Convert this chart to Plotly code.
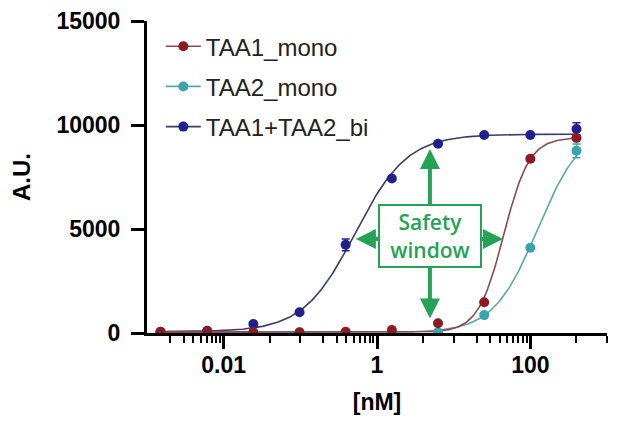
import math
import numpy as np
import plotly.graph_objects as go

# concentrations (nM), 4-fold serial dilution
conc = [0.0015, 0.0061, 0.0244, 0.0977, 0.39, 1.5625, 6.25, 25, 100, 400]

taa1_mono = [50, 70, 40, 40, 60, 140, 470, 1480, 8380, 9380]
taa2_mono = [20, 20, 20, 20, 20, 30, 40, 860, 4100, 8760]
taa1_taa2_bi = [60, 110, 430, 1000, 4240, 7430, 9100, 9520, 9520, 9810]

taa1_err = [0, 0, 0, 0, 0, 0, 0, 0, 0, 0]
taa2_err = [0, 0, 0, 0, 0, 0, 0, 0, 0, 330]
bi_err = [0, 0, 0, 0, 280, 0, 0, 0, 0, 300]

# 4PL fit parameters: bottom, top, EC50, hill
taa1_fit = [40, 9400, 45, 2.6]
taa2_fit = [20, 10000, 125, 1.5]
bi_fit = [60, 9560, 0.52, 1.28]

names = ['TAA1_mono', 'TAA2_mono', 'TAA1+TAA2_bi']
marker_colors = ['#8b1a22', '#3aa3ad', '#1f1f8f']
line_colors = ['#8a4a4e', '#5aa6ae', '#3c3c66']

x_ticks = [0.01, 1, 100]
x_tick_text = ['0.01', '1', '100']
x_minor = [0.002, 0.003, 0.004, 0.005, 0.006, 0.007, 0.008, 0.009,
           0.04, 0.1, 0.2, 0.3, 0.4, 0.5, 0.6, 0.7, 0.8, 0.9,
           4, 10, 20, 30, 40, 50, 60, 70, 80, 90, 400, 1000]
y_ticks = [0, 5000, 10000, 15000]
y_tick_text = ['0', '5000', '10000', '15000']


def four_pl(x, params):
    """Return the 4-parameter logistic curve at x."""
    bottom, top, ec50, hill = params
    return bottom + (top - bottom) / (1 + (ec50 / x) ** hill)


green = '#26a257'
fig = go.Figure()
x_fit = np.logspace(math.log10(conc[0]), math.log10(conc[-1]), 300)

series = [(taa1_taa2_bi, bi_err, bi_fit, 2),
          (taa2_mono, taa2_err, taa2_fit, 1),
          (taa1_mono, taa1_err, taa1_fit, 0)]

for values, err, fit, i in series:
    fig.add_trace(go.Scatter(x=x_fit, y=four_pl(x_fit, fit), mode='lines',
                             line=dict(color=line_colors[i], width=1.6),
                             showlegend=False, hoverinfo='skip'))
for values, err, fit, i in series:
    fig.add_trace(go.Scatter(x=conc, y=values, mode='markers',
                             marker=dict(color=marker_colors[i], size=10),
                             error_y=dict(type='data', array=err, color=marker_colors[i],
                                          thickness=1.5, width=4),
                             showlegend=False))

# legend entries (line + marker like the GraphPad legend)
for i in range(3):
    fig.add_trace(go.Scatter(x=[None], y=[None], mode='lines+markers', name=names[i],
                             line=dict(color=line_colors[i], width=1.6),
                             marker=dict(color=marker_colors[i], size=10),
                             legendgroup=names[i], legendrank=i + 1))

# safety window box and arrows
box_x = math.log10(4.9)
box_y = 4650
fig.add_annotation(x=box_x, y=box_y, xref='x', yref='y', text='Safety<br>window',
                   showarrow=False, font=dict(family='Open Sans', size=21, color=green,
                                              weight=600),
                   bordercolor=green, borderwidth=2, borderpad=3, bgcolor='white',
                   width=94, height=54)
arrow_tips = [(4.9, 8850, 4.9, 6100), (4.9, 700, 4.9, 3200),
              (0.53, 4520, 1.1, 4520), (44, 4520, 21.5, 4520)]
for tx, ty, sx, sy in arrow_tips:
    fig.add_annotation(x=math.log10(tx), y=ty, ax=math.log10(sx), ay=sy,
                       xref='x', yref='y', axref='x', ayref='y', text='',
                       showarrow=True, arrowhead=2, arrowsize=1.0, arrowwidth=4,
                       arrowcolor=green)

tick_font = dict(family='Liberation Sans, Arial', size=23, color='black', weight='bold')
fig.update_xaxes(type='log', range=[-3, 3], tickvals=x_ticks, ticktext=x_tick_text,
                 ticks='outside', ticklen=13, tickwidth=2.5, tickcolor='black',
                 minor=dict(tickvals=x_minor, ticks='outside', ticklen=7, tickwidth=2,
                            tickcolor='black'),
                 showline=True, linecolor='black', linewidth=3, showgrid=False,
                 zeroline=False, tickfont=tick_font, ticklabelstandoff=-4,
                 automargin='bottom',
                 title=dict(text='[nM]', standoff=18,
                            font=dict(family='Liberation Sans, Arial', size=23,
                                      color='black', weight='bold')))
fig.update_yaxes(range=[0, 15000], tickvals=y_ticks, ticktext=y_tick_text,
                 ticks='outside', ticklen=13,
                 tickwidth=2.5, tickcolor='black', showline=True, linecolor='black',
                 linewidth=3, showgrid=False, zeroline=False, tickfont=tick_font,
                 ticklabelstandoff=6, ticklabeloverflow='allow', automargin='left',
                 title=dict(text='A.U.', standoff=20,
                            font=dict(family='Liberation Sans, Arial', size=24,
                                      color='black', weight='bold')))
# margins allow for the 8px page margin of the html body
fig.update_layout(width=625, height=430, plot_bgcolor='white', paper_bgcolor='white',
                  margin=dict(l=125, r=26, t=13, b=105),
                  legend=dict(x=0.03, y=0.99, xanchor='left', yanchor='top',
                              traceorder='grouped', tracegroupgap=6, itemwidth=35,
                              font=dict(family='Liberation Sans, Arial', size=24,
                                        color='#222')))
fig.write_html("out.html")
